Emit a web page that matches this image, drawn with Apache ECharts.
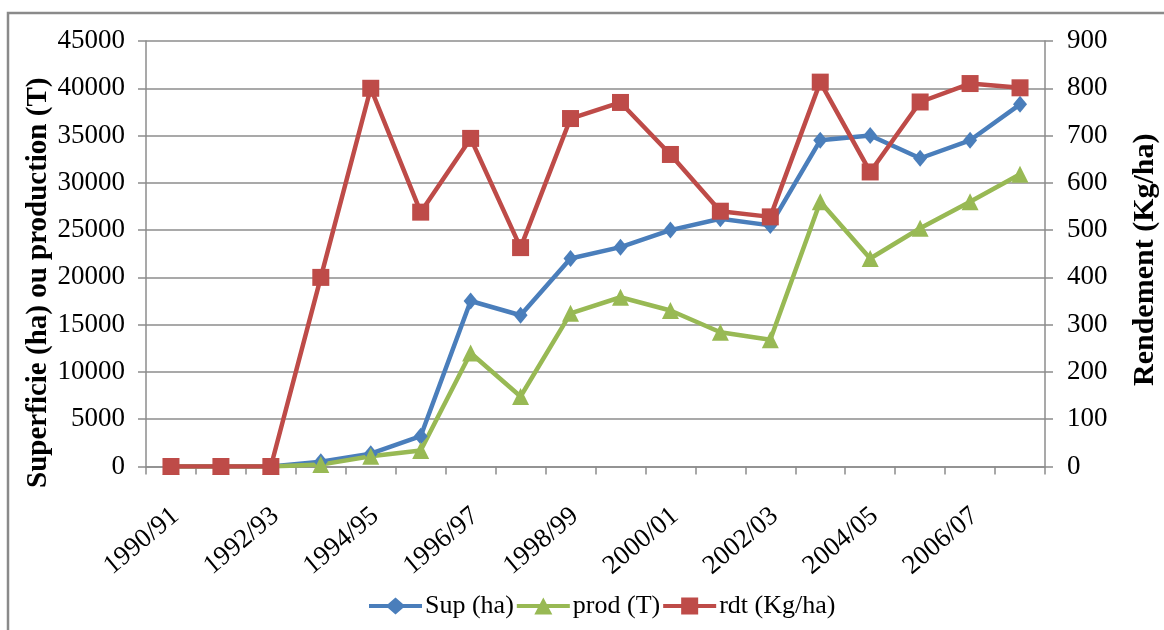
<!DOCTYPE html>
<html>
<head>
<meta charset="utf-8">
<title>Superficie, production et rendement</title>
<script src="https://cdn.jsdelivr.net/npm/echarts@6/dist/echarts.min.js"></script>
<style>
  html, body { margin: 0; padding: 0; background: #ffffff; }
  #chart { width: 1164px; height: 630px; }
</style>
</head>
<body>
<div id="chart"></div>
<script>
// Campaigns (x axis)
const campagnes = ['1990/91', '1991/92', '1992/93', '1993/94', '1994/95', '1995/96',
  '1996/97', '1997/98', '1998/99', '1999/00', '2000/01', '2001/02', '2002/03',
  '2003/04', '2004/05', '2005/06', '2006/07', '2007/08'];

// Area sown (ha)
const superficie = [0, 0, 0, 500, 1350, 3200, 17500, 16000, 22000, 23200, 25000,
  26200, 25500, 34500, 35000, 32600, 34500, 38300];

// Production (T)
const production = [0, 0, 0, 200, 1080, 1700, 12000, 7400, 16200, 17900, 16500,
  14200, 13400, 28000, 22000, 25200, 28000, 30900];

// Yield (kg/ha)
const rendement = [0, 0, 0, 400, 800, 538, 694, 463, 736, 770, 660, 540, 528,
  813, 623, 771, 810, 801];

// Axis ranges
const leftAxis = { min: 0, max: 45000, step: 5000 };
const rightAxis = { min: 0, max: 900, step: 100 };

const FONT = '"Liberation Serif", "Times New Roman", serif';
const GRID_GREY = '#8c8c8c';

// Legend keys: a thick line segment with the series marker in the middle (53 x 17 box)
const ICON_DIAMOND = 'path://M0,6.5 L19,6.5 L26.5,0 L34,6.5 L53,6.5 L53,10.5 L34,10.5 L26.5,17 L19,10.5 L0,10.5 Z';
const ICON_TRIANGLE = 'path://M0,6.5 L23.06,6.5 L26.5,0 L29.94,6.5 L53,6.5 L53,10.5 L32.06,10.5 L35.5,17 L17.5,17 L20.94,10.5 L0,10.5 Z';
const ICON_SQUARE = 'path://M0,6.5 L18,6.5 L18,0 L35,0 L35,6.5 L53,6.5 L53,10.5 L35,10.5 L35,17 L18,17 L18,10.5 L0,10.5 Z';

const chart = echarts.init(document.getElementById('chart'), null, { renderer: 'canvas' });

function lineSeries(name, data, color, symbol, size, yAxisIndex) {
  return {
    name: name,
    type: 'line',
    yAxisIndex: yAxisIndex,
    data: data,
    symbol: symbol,
    symbolSize: size,
    showSymbol: true,
    lineStyle: { color: color, width: 4.5 },
    itemStyle: { color: color, borderWidth: 0 },
    emphasis: { disabled: true }
  };
}

// plain integers, no thousands separator
const plain = v => String(v);

chart.setOption({
  animation: false,
  backgroundColor: '#ffffff',
  textStyle: { fontFamily: FONT, color: '#000' },
  graphic: [{
    type: 'rect',
    shape: { x: 8, y: 13, width: 1300, height: 800 },
    style: { fill: 'none', stroke: '#8a8a8a', lineWidth: 2.5 },
    silent: true,
    z: -10
  }],
  grid: {
    left: 146, right: 119, top: 41, bottom: 163.5,
    containLabel: false,
    outerBoundsMode: 'none'
  },
  legend: {
    left: 364,
    top: 588,
    itemWidth: 53,
    itemHeight: 17,
    itemGap: 3,
    textStyle: { fontFamily: FONT, fontSize: 26, color: '#000', padding: [0, 0, 0, -2] },
    data: [
      { name: 'Sup (ha)', icon: ICON_DIAMOND },
      { name: 'prod (T)', icon: ICON_TRIANGLE },
      { name: 'rdt (Kg/ha)', icon: ICON_SQUARE }
    ]
  },
  xAxis: {
    type: 'category',
    data: campagnes,
    boundaryGap: true,
    axisLine: { show: true, lineStyle: { color: GRID_GREY, width: 1.5 } },
    axisTick: { show: true, interval: 0, length: 8, lineStyle: { color: GRID_GREY, width: 1.5 } },
    axisLabel: {
      interval: 1,
      rotate: 40,
      margin: 50,
      fontFamily: FONT,
      fontSize: 27,
      color: '#000',
      padding: [0, -6, 0, 0]
    },
    splitLine: { show: false }
  },
  yAxis: [{
    type: 'value',
    min: leftAxis.min,
    max: leftAxis.max,
    interval: leftAxis.step,
    position: 'left',
    name: 'Superficie (ha) ou production (T)',
    nameLocation: 'middle',
    nameRotate: 90,
    nameGap: 93,
    nameMoveOverlap: false,
    nameTextStyle: { fontFamily: FONT, fontSize: 29, fontWeight: 'bold', color: '#000', padding: [0, 58, 0, 0] },
    axisLine: { show: true, lineStyle: { color: GRID_GREY, width: 1.5 } },
    axisTick: { show: true, length: 8, lineStyle: { color: GRID_GREY, width: 1.5 } },
    axisLabel: { margin: 21, fontFamily: FONT, fontSize: 27, color: '#000', formatter: plain },
    splitLine: { show: true, lineStyle: { color: GRID_GREY, width: 1.5 } }
  }, {
    type: 'value',
    min: rightAxis.min,
    max: rightAxis.max,
    interval: rightAxis.step,
    position: 'right',
    name: 'Rendement (Kg/ha)',
    nameLocation: 'middle',
    nameRotate: 90,
    nameGap: 85,
    nameTextStyle: { fontFamily: FONT, fontSize: 30, fontWeight: 'bold', color: '#000', padding: [0, 12, 0, 0] },
    axisLine: { show: true, lineStyle: { color: GRID_GREY, width: 1.5 } },
    axisTick: { show: true, length: 8, lineStyle: { color: GRID_GREY, width: 1.5 } },
    axisLabel: { margin: 22, fontFamily: FONT, fontSize: 27, color: '#000', formatter: plain },
    splitLine: { show: false }
  }],
  series: [
    lineSeries('Sup (ha)', superficie, '#4a7ebb', 'diamond', [14, 17], 0),
    lineSeries('prod (T)', production, '#98b954', 'triangle', 17, 0),
    lineSeries('rdt (Kg/ha)', rendement, '#be4b48', 'rect', 17, 1)
  ]
});
</script>
</body>
</html>
